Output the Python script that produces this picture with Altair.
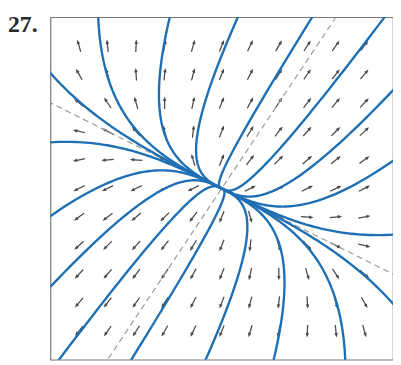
import altair as alt
import numpy as np
import pandas as pd

# --- values ---
label = "27."
eig_vals = [1.0, 3.0]            # slow, fast
eig_vec_slow = [2.0, -1.0]       # dashed line, shallow
eig_vec_fast = [2.0, 3.0]        # dashed line, steep
# trajectory constants: w = C * u**3  (u along slow vector, w along fast vector)
curve_C = [-250.0, -2.94, -0.49, -0.126, -0.03, 0.074, 0.49, 2.4, 34.0]
grid_vals = [-2.5, -2.0, -1.5, -1.0, -0.5, 0.0, 0.5, 1.0, 1.5, 2.0, 2.5]
domain = [-3, 3]

P = np.array([eig_vec_slow, eig_vec_fast]).T
A = P @ np.diag(eig_vals) @ np.linalg.inv(P)

# direction field
rows = []
for gx in grid_vals:
    for gy in grid_vals:
        if gx == 0 and gy == 0:
            continue
        dx, dy = A @ np.array([gx, gy])
        ang = (np.degrees(np.arctan2(dx, dy)) + 360) % 360
        rows.append({"x": gx, "y": gy, "angle": ang})
field = pd.DataFrame(rows)

# trajectories
crow = []
s = np.linspace(-7, 1.6, 400)
for ci, C in enumerate(curve_C):
    pts = []
    for sign in (-1, 1):
        u = sign * np.exp(s)
        w = C * u ** 3
        xs = u * eig_vec_slow[0] + w * eig_vec_fast[0]
        ys = u * eig_vec_slow[1] + w * eig_vec_fast[1]
        seq = list(zip(xs, ys))
        if sign == -1:
            seq = seq[::-1]
        pts.extend(seq)
    k = 0
    for (px, py) in pts:
        if abs(px) < 6 and abs(py) < 6:
            crow.append({"x": px, "y": py, "c": ci, "o": k})
            k += 1
curves = pd.DataFrame(crow)

# eigen lines
lrow = []
for li, v in enumerate([eig_vec_slow, eig_vec_fast]):
    n = np.hypot(*v)
    for j, t in enumerate([-6, 6]):
        lrow.append({"x": t * v[0] / n, "y": t * v[1] / n, "l": li, "o": j})
lines = pd.DataFrame(lrow)

xs = alt.Scale(domain=domain, nice=False, zero=False)
ys = alt.Scale(domain=domain, nice=False, zero=False)

arrow_path = "M-0.1,1L0.1,1L0.1,-0.3L0.28,-0.3L0,-1L-0.28,-0.3L-0.1,-0.3Z"
arrows = alt.Chart(field).mark_point(
    shape=arrow_path, filled=True, size=160, color="#4a4a4a", opacity=1, strokeWidth=0
).encode(
    x=alt.X("x:Q", scale=xs, axis=None),
    y=alt.Y("y:Q", scale=ys, axis=None),
    angle=alt.Angle("angle:Q", scale=None),
)

dashed = alt.Chart(lines).mark_line(
    color="#9a9a9a", strokeDash=[6, 4], strokeWidth=1.2, clip=True
).encode(
    x=alt.X("x:Q", scale=xs, axis=None),
    y=alt.Y("y:Q", scale=ys, axis=None),
    detail="l:N",
    order="o:Q",
)

traj = alt.Chart(curves).mark_line(
    color="#1f6fb5", strokeWidth=2.4, clip=True
).encode(
    x=alt.X("x:Q", scale=xs, axis=None),
    y=alt.Y("y:Q", scale=ys, axis=None),
    detail="c:N",
    order="o:Q",
)

title = alt.Chart(pd.DataFrame({"t": [label]})).mark_text(
    font="Liberation Serif", fontWeight="bold", fontSize=24, color="#2a2a2a",
    align="left", baseline="alphabetic"
).encode(
    x=alt.value(-43), y=alt.value(15), text="t:N"
)

chart = alt.layer(arrows, dashed, traj, title).properties(
    width=347, height=347,
    padding={"left": 43, "top": 7, "right": 0, "bottom": 0},
    autosize=alt.AutoSizeParams(type="none"),
).configure_view(stroke="#777777", strokeWidth=1.2)

chart.save("out.html", embed_options={"renderer": "svg", "actions": False})
